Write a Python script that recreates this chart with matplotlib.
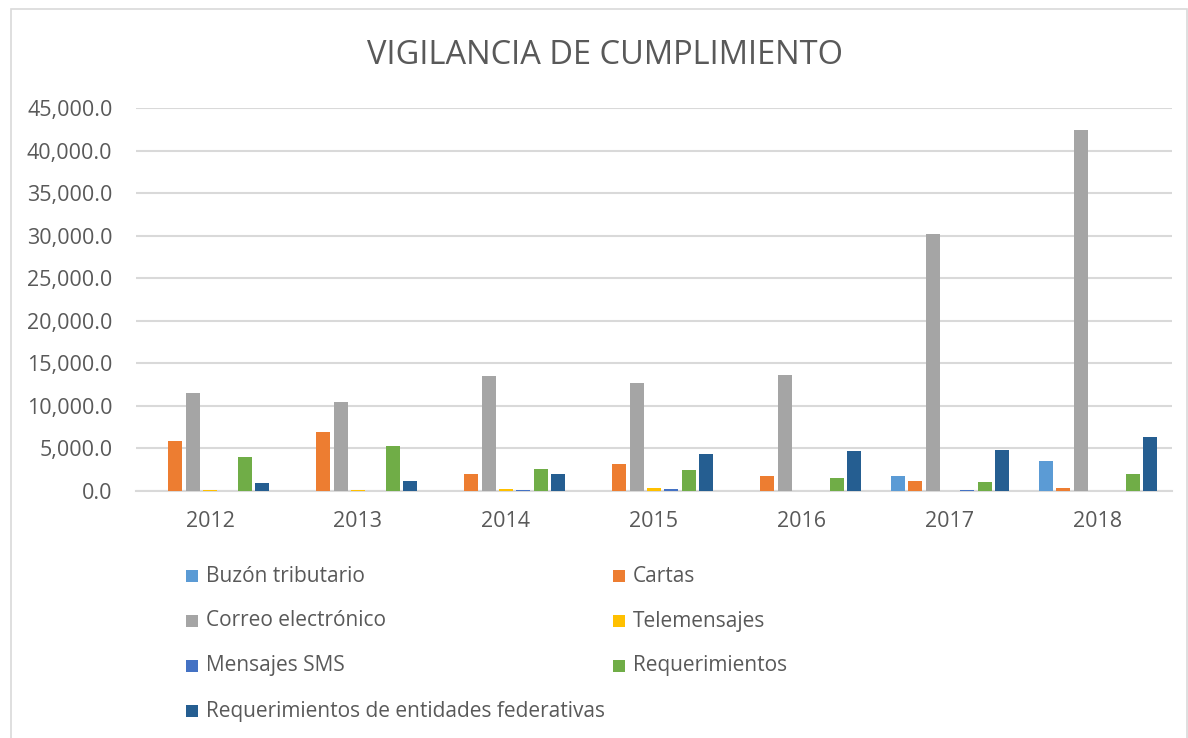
import matplotlib
matplotlib.use("Agg")
import matplotlib.pyplot as plt
from matplotlib.patches import Rectangle
from matplotlib.ticker import FuncFormatter
import numpy as np

plt.rcParams['font.family'] = ['Open Sans', 'DejaVu Sans']

years = ["2012", "2013", "2014", "2015", "2016", "2017", "2018"]

series_names = [
    "Buzón tributario",
    "Cartas",
    "Correo electrónico",
    "Telemensajes",
    "Mensajes SMS",
    "Requerimientos",
    "Requerimientos de entidades federativas",
]

buzon = [0, 0, 0, 0, 0, 1730, 3520]
cartas = [5870, 6920, 2000, 3130, 1760, 1140, 350]
correo = [11470, 10450, 13530, 12680, 13600, 30150, 42450]
telemensajes = [60, 60, 200, 400, 0, 40, 30]
sms = [0, 0, 60, 230, 0, 160, 0]
requerimientos = [3960, 5320, 2620, 2430, 1530, 1090, 1960]
req_federativas = [970, 1170, 1960, 4340, 4660, 4780, 6300]

series_values = [buzon, cartas, correo, telemensajes, sms,
                 requerimientos, req_federativas]
colors = ["#5B9BD5", "#ED7D31", "#A5A5A5", "#FFC000", "#4472C4",
          "#70AD47", "#255E91"]

W, H = 1188, 738
fig = plt.figure(figsize=(W / 100, H / 100), dpi=100)
text_color = "#595959"
grid_color = "#D9D9D9"

# chart frame
fig.add_artist(Rectangle((11 / W, -0.01), (1187 - 11) / W, 1.01 - 9 / H,
                         transform=fig.transFigure, fill=False,
                         edgecolor=grid_color, linewidth=1.2))

# plot area
left, right, top, bottom = 136, 1172, 108, 491
ax = fig.add_axes([left / W, (H - bottom) / H, (right - left) / W, (bottom - top) / H])

x = np.arange(len(years))
slot = 0.117
bar_w = 0.095
n = len(series_names)
for i, (vals, col) in enumerate(zip(series_values, colors)):
    ax.bar(x + (i - (n - 1) / 2) * slot, vals, width=bar_w, color=col,
           linewidth=0, zorder=3)

ax.set_xlim(-0.5, len(years) - 0.5)
ax.set_ylim(0, 45000)
ax.set_yticks(np.arange(0, 45001, 5000))
ax.yaxis.set_major_formatter(FuncFormatter(lambda v, p: f"{v:,.1f}"))
ax.set_xticks(x)
ax.set_xticklabels(years)
ax.grid(axis="y", color=grid_color, linewidth=1.5, zorder=0)
for s in ["left", "right", "top"]:
    ax.spines[s].set_visible(False)
ax.spines["bottom"].set_color(grid_color)
ax.spines["bottom"].set_linewidth(1.5)
ax.tick_params(axis="both", length=0, colors=text_color, labelsize=15.5)
ax.tick_params(axis="y", pad=17)
ax.tick_params(axis="x", pad=14.5)

fig.text(605 / W, 1 - 55 / H, "VIGILANCIA DE CUMPLIMIENTO", ha="center",
         va="center", fontsize=23.5, color=text_color)

# legend laid out in two columns, row by row
col_x = [186, 613]
row_y = [576, 621, 666, 711]
for i, (name, col) in enumerate(zip(series_names, colors)):
    r, c = divmod(i, 2)
    sx, sy = col_x[c], row_y[r]
    fig.add_artist(Rectangle((sx / W, 1 - (sy + 6) / H), 12 / W, 12 / H,
                             transform=fig.transFigure, facecolor=col,
                             edgecolor="none"))
    fig.text((sx + 20) / W, 1 - sy / H, name, ha="left", va="center",
             fontsize=15, color=text_color)

fig.savefig("out.png", dpi=100, facecolor="white")
